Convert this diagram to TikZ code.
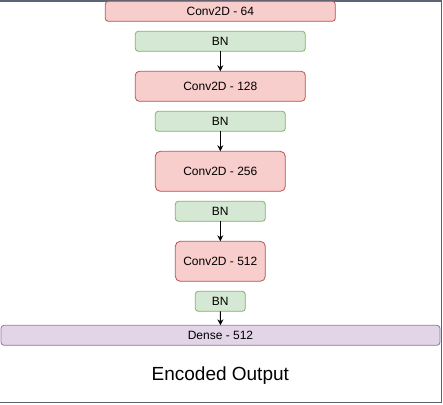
\documentclass[tikz,border=0pt]{standalone}
\usepackage{fontspec}
\setmainfont{Liberation Sans}
\usetikzlibrary{arrows.meta}
\definecolor{convfill}{HTML}{F8CECC}
\definecolor{convdraw}{HTML}{B85450}
\definecolor{bnfill}{HTML}{D5E8D4}
\definecolor{bndraw}{HTML}{82B366}
\definecolor{densefill}{HTML}{E1D5E7}
\definecolor{densedraw}{HTML}{9673A6}
\definecolor{framecol}{HTML}{5B6473}
\tikzset{
  layerbox/.style={draw, line width=0.8pt, inner sep=0pt, outer sep=0pt, font=\fontsize{12pt}{14pt}\selectfont},
  convbox/.style={layerbox, fill=convfill, draw=convdraw},
  bnbox/.style={layerbox, fill=bnfill, draw=bndraw, rounded corners=3pt},
  densebox/.style={layerbox, fill=densefill, draw=densedraw, rounded corners=3pt},
  flow/.style={-{Stealth[length=6pt,width=6pt]}, line width=0.9pt, black},
}
\begin{document}
\begin{tikzpicture}[x=1pt,y=1pt]
\useasboundingbox (0,0) rectangle (443,-404);
\fill[white] (0,0) rectangle (443,-404);
\draw[framecol, line width=1.6pt] (0,-0.8) -- (441.5,-0.8) -- (441.5,-402.6) -- (0,-402.6);
% nodes: (center x, center y), width, height
\node[convbox, rounded corners=3pt, minimum width=230pt, minimum height=20pt] (c64) at (220.3,-11.3) {Conv2D - 64};
\node[bnbox, minimum width=170pt, minimum height=20pt] (bn1) at (220.3,-41.3) {BN};
\node[convbox, rounded corners=4pt, minimum width=170pt, minimum height=30pt] (c128) at (220.3,-86.3) {Conv2D - 128};
\node[bnbox, minimum width=130pt, minimum height=20pt] (bn2) at (220.3,-121.3) {BN};
\node[convbox, rounded corners=5pt, minimum width=130pt, minimum height=40pt] (c256) at (220.3,-171.3) {Conv2D - 256};
\node[bnbox, minimum width=90pt, minimum height=20pt] (bn3) at (220.3,-211.3) {BN};
\node[convbox, rounded corners=5pt, minimum width=90pt, minimum height=40pt] (c512) at (220.3,-261.3) {Conv2D - 512};
\node[bnbox, minimum width=50pt, minimum height=20pt] (bn4) at (220.3,-301.3) {BN};
\node[densebox, minimum width=439pt, minimum height=20pt] (dense) at (220.5,-335.3) {Dense - 512};
\node[inner sep=0pt, font=\fontsize{19pt}{22pt}\selectfont] (out) at (220.3,-376) {Encoded Output};
\draw[flow] (bn1) -- (c128);
\draw[flow] (bn2) -- (c256);
\draw[flow] (bn3) -- (c512);
\draw[flow] (bn4) -- (dense);
\end{tikzpicture}
\end{document}
